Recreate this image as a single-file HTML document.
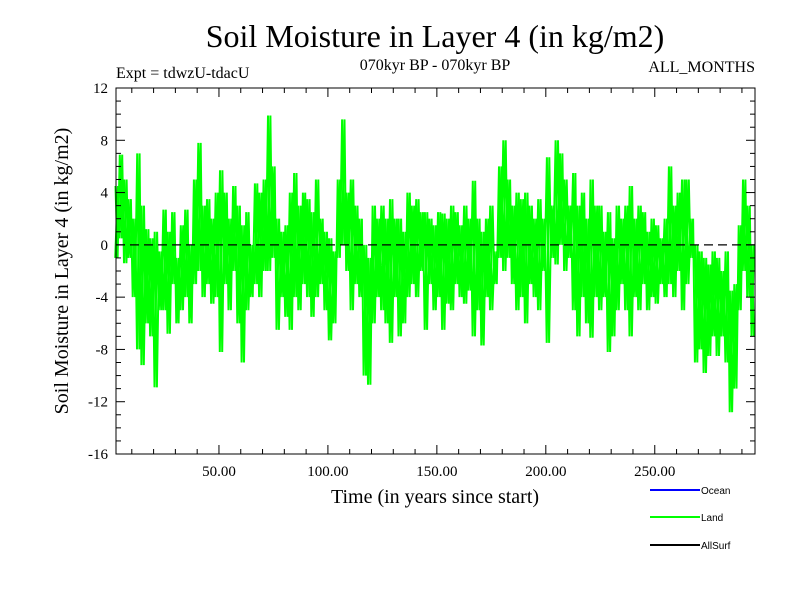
<!DOCTYPE html>
<html><head><meta charset="utf-8"><style>
body{margin:0;background:#fff;}
svg text{font-family:"Liberation Serif",serif;}
svg text.sans{font-family:"Liberation Sans",sans-serif;}
</style></head><body>
<svg width="800" height="600" xmlns="http://www.w3.org/2000/svg">
<rect width="800" height="600" fill="#fff"/>
<text x="435" y="47" font-size="32" text-anchor="middle">Soil Moisture in Layer 4 (in kg/m2)</text>
<text x="116" y="78" font-size="16">Expt = tdwzU-tdacU</text>
<text x="435" y="70" font-size="16" text-anchor="middle">070kyr BP - 070kyr BP</text>
<text x="755" y="72" font-size="16" text-anchor="end">ALL_MONTHS</text>
<text transform="translate(68,271) rotate(-90)" font-size="20" text-anchor="middle">Soil Moisture in Layer 4 (in kg/m2)</text>
<text x="435" y="503" font-size="20" text-anchor="middle">Time (in years since start)</text>
<g id="plot"></g>
<rect x="116" y="88" width="639" height="366" fill="none" stroke="#000" stroke-width="1"/>
<g>
<line x1="650" y1="490" x2="700" y2="490" stroke="#0000ff" stroke-width="2"/>
<text class="sans" x="701" y="494" font-size="10">Ocean</text>
<line x1="650" y1="517" x2="700" y2="517" stroke="#00ff00" stroke-width="2"/>
<text class="sans" x="701" y="521" font-size="10">Land</text>
<line x1="650" y1="545" x2="700" y2="545" stroke="#000" stroke-width="2"/>
<text class="sans" x="701" y="549" font-size="10">AllSurf</text>
</g>
</svg>
<script>
const startYear = 3;
const binWidth = 2;
const highs = [4.5,6.9,5,3.5, 2,7,3, 1.2,0.5,1,-0.5, 2.7,1,2.5,-1,1.5,2.7,0, 5,7.8,3, 3.5,2,4, 5.7,4,2,4.5, 3,1.5,2.5,0, 4.7,4,5, 9.9,6, 2,1,1.5, 4,5.5,3,4, 3.5,2.5,5,2, 1,0.5,-0.5, 5,9.6,4, 5,3,2, 0,-1, 3,2,3,2, 3.5,2, 2,1, 4,3,3.5,2.5, 2.5,2,1.5,2.5, 2.4,2, 3,2.5,1.5,3,2, 4.9,2,1,2,3,-0.5, 6,8,5, 3,4,3.5,4,3,2,3.5,2, 6.7, 3,8,7,5,3, 5.5,3,4,2,5,3, 3,1,2.5,0.5,3,2, 3,4.5,2,3, 2.5,1,2,1.5,0.5,2, 6,3,4,5,5,2, 0,-0.5,-1,-1.5, -0.5,-1,-2,-0.5, -3.5,-3, 1.5,5,3, 0];
const lows = [-1,0.5,-1.4,-1, -4,-8,-9.2, -6,-7,-10.9,-5, -5,-6.8,-3,-6,-5,-4,-6, -3,-2,-4, -3,-4.5,-4, -8.2,-3,-5,-2, -6,-9,-5,-4, -3,-4,-2, -2,-1, -6.5,-4,-5.5, -6.5,-4,-5,-3, -4,-5.5,-4,-3, -5,-7.3,-6, -1,0,-2, -5,-3,-4, -10,-10.7, -6,-4,-5,-6, -7.5,-4, -7,-6, -4,-3,-4,-2, -6.5,-3,-5,-4, -6.5,-4.5, -5,-3,-4,-4.5,-3.5, -7,-5,-7.7,-4,-5,-3, -1,-2,-1, -3,-5,-4,-6,-3,-4,-5,-2, -7.5, -1,-1.5,0,-2,-1, -5,-7,-4,-6,-7.1,-4, -5,-4,-8.2,-7,-5,-3, -5,-7,-4,-5, -3,-5,-4,-4.5,-3,-4, -3,-4,-2,-5,-3,-1, -9,-8,-9.8,-8.5, -7,-8.5,-7,-9, -12.8,-11, -5,-2,-4, -7];
const yTicks = [12,8,4,0,-4,-8,-12,-16];
const yTickLabels = ["12","8","4","0","-4","-8","-12","-16"];
const xTicks = [50,100,150,200,250];
const xTickLabels = ["50.00","100.00","150.00","200.00","250.00"];

const NS="http://www.w3.org/2000/svg";
const X0=116,X1=755,Y0=88,Y1=454,XMIN=2.75,XMAX=296,YMIN=-16,YMAX=12;
const sx=v=>X0+(v-XMIN)/(XMAX-XMIN)*(X1-X0);
const sy=v=>Y1-(v-YMIN)/(YMAX-YMIN)*(Y1-Y0);
const g=document.getElementById('plot');
function mk(t,a){const e=document.createElementNS(NS,t);for(const k in a)e.setAttribute(k,a[k]);g.appendChild(e);return e;}

let pts=[], pts2=[];
for(let i=0;i<highs.length;i++){
  const yr=startYear+binWidth*i;
  pts.push(sx(yr-0.5).toFixed(1)+','+sy(highs[i]).toFixed(1));
  pts.push(sx(yr+0.5).toFixed(1)+','+sy(lows[i]).toFixed(1));
  pts2.push(sx(yr-0.6).toFixed(1)+','+sy(lows[i]).toFixed(1));
  pts2.push(sx(yr+0.6).toFixed(1)+','+sy(highs[i]).toFixed(1));
}
const line=mk('polyline',{points:pts.join(' '),fill:'none',stroke:'#00ff00','stroke-width':2});


const line2=mk('polyline',{points:pts2.join(' '),fill:'none',stroke:'#00ff00','stroke-width':2});



const z=mk('line',{x1:X0,x2:X1,y1:sy(0),y2:sy(0),stroke:'#000','stroke-width':1.3,'stroke-dasharray':'9,5'});



for(let v=YMIN;v<=YMAX;v++){
  const major=v%4===0, len=major?9:5;
  mk('line',{x1:X0,x2:X0+len,y1:sy(v),y2:sy(v),stroke:'#000'});
  mk('line',{x1:X1,x2:X1-len,y1:sy(v),y2:sy(v),stroke:'#000'});
}
yTicks.forEach((v,i)=>{
  const t=mk('text',{x:X0-8,y:sy(v)+5,'font-size':15,'text-anchor':'end'});
  t.textContent=yTickLabels[i];
  
  
});
for(let v=10;v<=XMAX;v+=10){
  const major=v%50===0, len=major?9:5;
  mk('line',{x1:sx(v),x2:sx(v),y1:Y1,y2:Y1-len,stroke:'#000'});
  mk('line',{x1:sx(v),x2:sx(v),y1:Y0,y2:Y0+len,stroke:'#000'});
}
xTicks.forEach((v,i)=>{
  const t=mk('text',{x:sx(v),y:Y1+22,'font-size':15,'text-anchor':'middle'});
  t.textContent=xTickLabels[i];
  
  
});
</script>
</body></html>
